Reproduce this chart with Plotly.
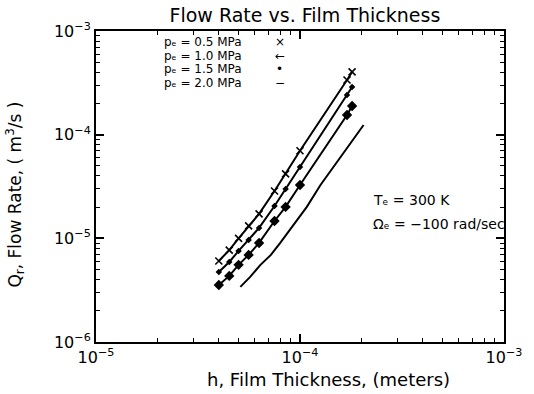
import plotly.graph_objects as go

# Film thickness h (m) where the marked points sit, shared by the three marked series
h_marks = [4.0e-5, 4.5e-5, 5.0e-5, 5.6e-5, 6.3e-5, 7.5e-5, 8.5e-5, 1.0e-4, 1.7e-4, 1.8e-4]

# Flow rate Q (m^3/s) for each inlet pressure
q_05 = [6.05e-6, 7.7e-6, 1.0e-5, 1.32e-5, 1.72e-5, 2.86e-5, 4.18e-5, 7.0e-5, 3.37e-4, 4.03e-4]
q_10 = [4.74e-6, 5.92e-6, 7.56e-6, 9.66e-6, 1.26e-5, 2.05e-5, 2.99e-5, 4.88e-5, 2.42e-4, 2.88e-4]
q_15 = [3.55e-6, 4.34e-6, 5.55e-6, 6.92e-6, 9.03e-6, 1.47e-5, 2.01e-5, 3.27e-5, 1.55e-4, 1.89e-4]

# 2.0 MPa curve (drawn as a plain line)
h_20 = [5.1e-5, 5.7e-5, 6.4e-5, 7.2e-5, 8.0e-5, 9.6e-5, 1.08e-4, 1.26e-4, 2.05e-4]
q_20 = [3.4e-6, 4.25e-6, 5.55e-6, 6.92e-6, 9.03e-6, 1.47e-5, 2.01e-5, 3.27e-5, 1.24e-4]

pressure_labels = ["0.5", "1.0", "1.5", "2.0"]
pressure_symbols = ["×", "←", "•", "−"]

x_decades = [1e-5, 1e-4, 1e-3]
x_ticktext = ["10<sup>−5</sup>", "10<sup>−4</sup>", "10<sup>−3</sup>"]
y_decades = [1e-6, 1e-5, 1e-4, 1e-3]
y_ticktext = ["10<sup>−6</sup>", "10<sup>−5</sup>", "10<sup>−4</sup>", "10<sup>−3</sup>"]

FONT = "DejaVu Sans"
INK = "black"
SP = "\u00a0"

fig = go.Figure()

line_style = dict(color=INK, width=2)
fig.add_trace(go.Scatter(x=h_marks, y=q_05, mode="lines+markers", line=line_style,
                         marker=dict(symbol="x-thin", size=7, color=INK,
                                     line=dict(color=INK, width=1.6))))
fig.add_trace(go.Scatter(x=h_marks, y=q_10, mode="lines+markers", line=line_style,
                         marker=dict(symbol="diamond", size=5, color=INK)))
fig.add_trace(go.Scatter(x=h_marks, y=q_15, mode="lines+markers", line=line_style,
                         marker=dict(symbol="diamond", size=8, color=INK)))
fig.add_trace(go.Scatter(x=h_20, y=q_20, mode="lines", line=line_style))


def minor_vals(decades):
    vals = []
    for d in decades[:-1]:
        vals += [k * d for k in range(2, 10)]
    return vals


axis_common = dict(
    type="log",
    showgrid=False,
    zeroline=False,
    showline=True,
    linecolor=INK,
    linewidth=2,
    mirror="ticks",
    ticks="inside",
    ticklen=8,
    tickwidth=1.5,
    tickcolor=INK,
    tickfont=dict(family=FONT, size=16, color=INK),
)

fig.update_xaxes(**axis_common, range=[-5, -3], tickmode="array",
                 tickvals=x_decades, ticktext=x_ticktext,
                 minor=dict(tickvals=minor_vals(x_decades), ticks="inside",
                            ticklen=4, tickcolor=INK, tickwidth=1))
fig.update_yaxes(**axis_common, range=[-6, -3], tickmode="array",
                 tickvals=y_decades, ticktext=y_ticktext,
                 minor=dict(tickvals=minor_vals(y_decades), ticks="inside",
                            ticklen=4, tickcolor=INK, tickwidth=1))

annotations = []
legend_y = [0.965, 0.921, 0.878, 0.834]
for lab, sym, yy in zip(pressure_labels, pressure_symbols, legend_y):
    annotations.append(dict(
        text=f"p\u2091{SP}={SP}{lab}{SP}MPa", x=0.161, y=yy,
        xref="paper", yref="paper", xanchor="left", yanchor="middle",
        showarrow=False, font=dict(family=FONT, size=12, color=INK)))
    annotations.append(dict(
        text=sym, x=0.45, y=yy,
        xref="paper", yref="paper", xanchor="center", yanchor="middle",
        showarrow=False, font=dict(family=FONT, size=12, color=INK)))

annotations.append(dict(
    text=f"T\u2091{SP}={SP}300 K", x=0.675, y=0.455, xref="paper", yref="paper",
    xanchor="left", yanchor="middle", showarrow=False,
    font=dict(family=FONT, size=14, color=INK)))
annotations.append(dict(
    text=f"Ω\u2091{SP}={SP}−100 rad/sec", x=0.675, y=0.381, xref="paper", yref="paper",
    xanchor="left", yanchor="middle", showarrow=False,
    font=dict(family=FONT, size=14, color=INK)))

annotations.append(dict(
    text="h, Film Thickness, (meters)", x=0.569, y=-0.122, xref="paper", yref="paper",
    xanchor="center", yanchor="middle", showarrow=False,
    font=dict(family=FONT, size=18, color=INK)))
annotations.append(dict(
    text="Q<sub>r</sub>, Flow Rate, ( m<sup>3</sup>/s )", x=-0.197, y=0.473,
    xref="paper", yref="paper", xanchor="center", yanchor="middle",
    textangle=-90, showarrow=False, font=dict(family=FONT, size=17, color=INK)))

fig.update_layout(
    width=534, height=394,
    margin=dict(l=96, r=21, t=31, b=52),
    paper_bgcolor="white", plot_bgcolor="white",
    showlegend=False,
    title=dict(text="Flow Rate vs. Film Thickness", x=0.571, y=0.962,
               xanchor="center", yanchor="middle",
               font=dict(family=FONT, size=19, color=INK)),
    annotations=annotations,
)

fig.write_html("out.html")
